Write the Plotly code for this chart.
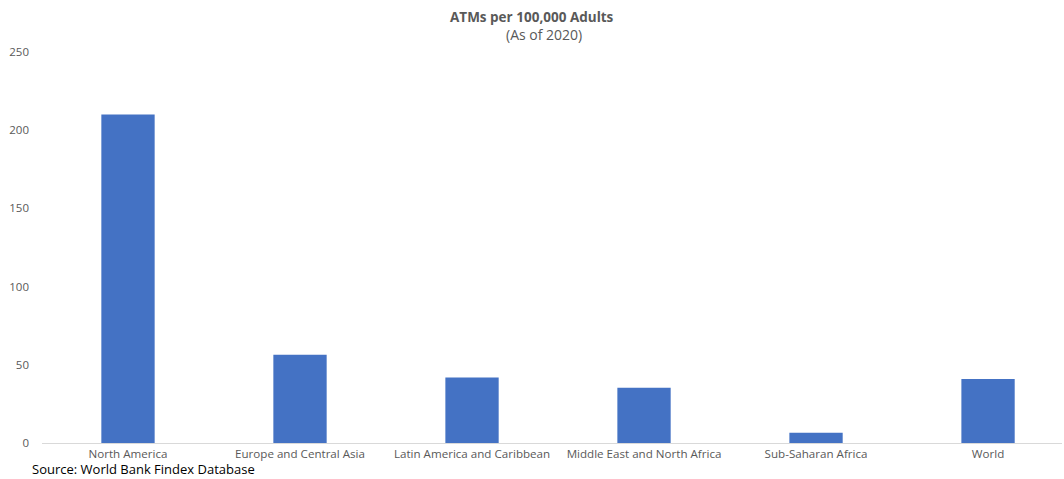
import plotly.graph_objects as go

regions = ["North America", "Europe and Central Asia", "Latin America and Caribbean",
           "Middle East and North Africa", "Sub-Saharan Africa", "World"]
atms = [210, 56.5, 41.8, 35.3, 6.5, 41]
y_ticks = [0, 50, 100, 150, 200, 250]

W, H = 1064, 479
ML, MR, MT, MB = 42, 2, 52, 36

fig = go.Figure(go.Bar(x=regions, y=atms, marker=dict(color="#4472C4", line=dict(width=0)),
                       width=0.31))

font_family = "Open Sans, Noto Sans, sans-serif"
fig.update_layout(
    width=W, height=H,
    margin=dict(l=ML, r=MR, t=MT, b=MB),
    plot_bgcolor="white", paper_bgcolor="white",
    showlegend=False,
    font=dict(family=font_family, color="#595959", size=11),
    xaxis=dict(range=[-0.5, 5.43], showgrid=False, showline=True, linecolor="#D9D9D9",
               linewidth=1, ticks="", ticklabelstandoff=0,
               tickfont=dict(size=11.6, color="#595959")),
    yaxis=dict(range=[0, 250], tickvals=y_ticks, showgrid=False, zeroline=False,
               showline=False, ticks="", ticklabelstandoff=12,
               tickfont=dict(size=11.5, color="#595959")),
)

plot_h = H - MT - MB
plot_w = W - ML - MR
def ypaper(px):
    return (H - MB - px) / plot_h
def xpaper(px):
    return (px - ML) / plot_w

fig.add_annotation(text="<b>ATMs per 100,000 Adults</b>", xref="paper", yref="paper",
                   x=xpaper(532), y=ypaper(17), showarrow=False, yanchor="middle",
                   font=dict(size=13.5, color="#595959", family=font_family))
fig.add_annotation(text="(As of 2020)", xref="paper", yref="paper",
                   x=xpaper(544), y=ypaper(34), showarrow=False, yanchor="middle",
                   font=dict(size=14, color="#595959", family=font_family))
fig.add_annotation(text="Source: World Bank Findex Database", xref="paper", yref="paper",
                   x=xpaper(31), y=ypaper(479), xanchor="left", yanchor="bottom",
                   showarrow=False, borderpad=0,
                   font=dict(size=13, color="black", family=font_family))

fig.write_html("out.html", config={"displayModeBar": False},
               post_script="document.body.style.margin='0';")
